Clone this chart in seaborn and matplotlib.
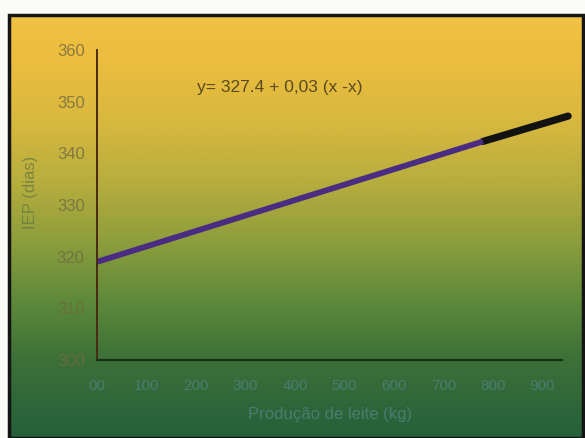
import numpy as np
import pandas as pd
import matplotlib
matplotlib.use("Agg")
import matplotlib.pyplot as plt
from matplotlib.colors import LinearSegmentedColormap
from matplotlib.patches import Rectangle
import seaborn as sns

# values
obs_x = [0, 780]          # range of observed milk yield
obs_y = [319.0, 342.3]
ext_x = [780, 952]        # extrapolated part of the regression
ext_y = [342.3, 347.2]
x_ticks = [0, 100, 200, 300, 400, 500, 600, 700, 800, 900]
x_tick_labels = ["00", "100", "200", "300", "400", "500", "600", "700", "800", "900"]
y_ticks = [300, 310, 320, 330, 340, 350, 360]
equation = "y= 327.4 + 0,03 (x -x)"
x_title = "Produção de leite (kg)"
y_title = "IEP (dias)"

sns.set_theme(style="white")
plt.rcParams['font.family'] = ['Liberation Sans', 'DejaVu Sans']

fig = plt.figure(figsize=(5.85, 4.38), dpi=100)
fig.patch.set_facecolor("#fbfbf8")

# gradient background (yellow top -> green bottom)
bg = fig.add_axes([0.015, 0.0, 0.982, 0.968])
grad_cmap = LinearSegmentedColormap.from_list(
    "bg", [(0.0, "#24603a"), (0.184, "#3d7038"), (0.325, "#5e8a3a"),
           (0.467, "#8e9e3c"), (0.608, "#b8ae3e"), (0.75, "#d8b83e"),
           (0.892, "#ecbd3e"), (1.0, "#f2c242")])
bg.imshow(np.linspace(0, 1, 256).reshape(-1, 1), aspect="auto",
          cmap=grad_cmap, origin="lower", extent=[0, 1, 0, 1])
bg.set_axis_off()

# frame
fig.patches.append(Rectangle((0.015, 0.0), 0.982, 0.966, transform=fig.transFigure,
                             fill=False, edgecolor="#151515", lw=2.5, zorder=5))

ax = fig.add_axes([0.166, 0.178, 0.795, 0.708])
ax.set_facecolor("none")

obs = pd.DataFrame({"x": obs_x, "y": obs_y})
ext = pd.DataFrame({"x": ext_x, "y": ext_y})
sns.lineplot(data=ext, x="x", y="y", ax=ax, color="#121212", lw=5.2,
             solid_capstyle="round", clip_on=False)
sns.lineplot(data=obs, x="x", y="y", ax=ax, color="#4a2c82", lw=4.2,
             solid_capstyle="butt", clip_on=False)

ax.set_xlim(0, 940)
ax.set_ylim(300, 360)
ax.set_xticks(x_ticks)
ax.set_xticklabels(x_tick_labels)
ax.set_yticks(y_ticks)
for s in ["top", "right"]:
    ax.spines[s].set_visible(False)
ax.spines["left"].set_color("#4a2a14")
ax.spines["left"].set_linewidth(1.4)
ax.spines["bottom"].set_color("#16301a")
ax.spines["bottom"].set_linewidth(1.6)
ax.tick_params(axis="y", length=0, labelsize=12, pad=9)
ax.tick_params(axis="x", length=0, labelsize=11, pad=14)
for lbl in ax.get_yticklabels():
    lbl.set_color("#6f6a40")
    lbl.set_alpha(0.8)
for lbl in ax.get_xticklabels():
    lbl.set_color("#4a7c70")

ax.set_xlabel(x_title, fontsize=12, color="#4a7c70", labelpad=10)
ax.set_ylabel(y_title, fontsize=12, color="#6a7a40", alpha=0.8)
ax.yaxis.set_label_coords(-0.127, 0.54)

ax.text(202, 352.8, equation, fontsize=12.5, color="#5a4a20", va="center")

fig.savefig("out.png", dpi=100, facecolor=fig.get_facecolor())
